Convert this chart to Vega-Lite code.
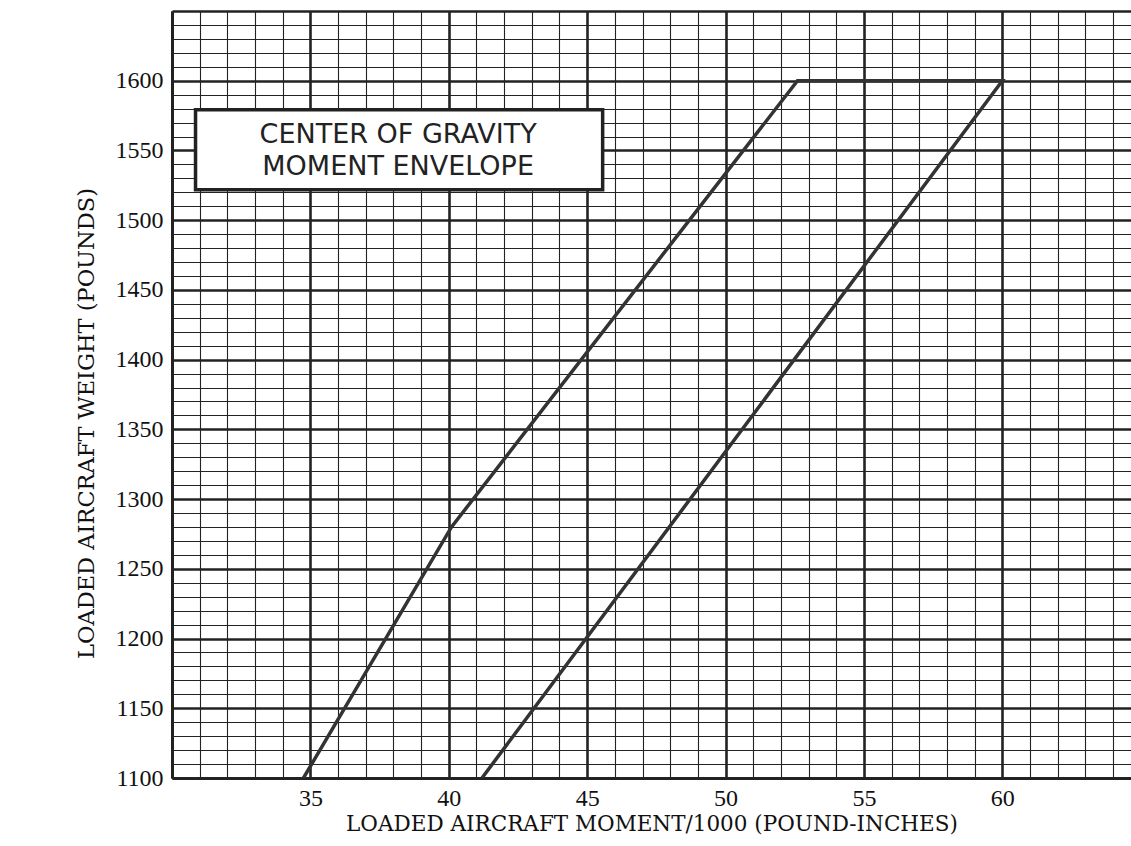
{
  "$schema": "https://vega.github.io/schema/vega-lite/v6.json",
  "width": 959,
  "height": 767,
  "autosize": {"type": "none"},
  "padding": {"left": 172, "top": 11, "right": 0, "bottom": 68},
  "background": "white",
  "config": {"view": {"stroke": null}},
  "datasets": {
    "envelope": [
      {"order": 1, "moment": 34.75, "weight": 1100},
      {"order": 2, "moment": 40.1, "weight": 1280},
      {"order": 3, "moment": 52.6, "weight": 1600},
      {"order": 4, "moment": 60, "weight": 1600},
      {"order": 5, "moment": 41.2, "weight": 1100}
    ],
    "box": [{"moment": 30.85, "moment2": 45.56, "weight": 1521.8, "weight2": 1579.2}],
    "caption": [
      {"line": "CENTER OF GRAVITY", "moment": 38.17, "weight": 1561},
      {"line": "MOMENT ENVELOPE", "moment": 38.17, "weight": 1538}
    ]
  },
  "encoding": {
    "x": {
      "field": "moment", "type": "quantitative",
      "scale": {"domain": [30, 64.65], "nice": false, "zero": false},
      "axis": {
        "title": "LOADED AIRCRAFT MOMENT/1000 (POUND-INCHES)",
        "values": [30,30.5,31,31.5,32,32.5,33,33.5,34,34.5,35,35.5,36,36.5,37,37.5,38,38.5,39,39.5,40,40.5,41,41.5,42,42.5,43,43.5,44,44.5,45,45.5,46,46.5,47,47.5,48,48.5,49,49.5,50,50.5,51,51.5,52,52.5,53,53.5,54,54.5,55,55.5,56,56.5,57,57.5,58,58.5,59,59.5,60,60.5,61,61.5,62,62.5,63,63.5,64,64.5],
        "format": "d",
        "grid": true,
        "gridColor": "#222222",
        "gridOpacity": 1,
        "gridWidth": {"condition": {"test": "datum.value % 5 === 0", "value": 2.6}, "value": 1.1},
        "ticks": false,
        "labelExpr": "datum.value % 5 === 0 && datum.value >= 35 && datum.value <= 60 ? datum.label : ''",
        "labelOverlap": false,
        "labelFlush": false,
        "labelBound": false,
        "labelFont": "Liberation Serif",
        "labelFontSize": 24,
        "labelColor": "#111111",
        "labelPadding": 8,
        "domainColor": "#222222",
        "domainWidth": 3,
        "titleFont": "DejaVu Serif",
        "titleFontSize": 21.5,
        "titleFontWeight": "normal",
        "titleColor": "#111111",
        "titlePadding": 3
      }
    },
    "y": {
      "field": "weight", "type": "quantitative",
      "scale": {"domain": [1100, 1650], "nice": false, "zero": false},
      "axis": {
        "title": "LOADED AIRCRAFT WEIGHT (POUNDS)",
        "values": [1100,1110,1120,1130,1140,1150,1160,1170,1180,1190,1200,1210,1220,1230,1240,1250,1260,1270,1280,1290,1300,1310,1320,1330,1340,1350,1360,1370,1380,1390,1400,1410,1420,1430,1440,1450,1460,1470,1480,1490,1500,1510,1520,1530,1540,1550,1560,1570,1580,1590,1600,1610,1620,1630,1640,1650],
        "format": "d",
        "grid": true,
        "gridColor": "#222222",
        "gridOpacity": 1,
        "gridWidth": {"condition": {"test": "datum.value % 50 === 0", "value": 2.6}, "value": 1.1},
        "ticks": false,
        "labelExpr": "datum.value % 50 === 0 && datum.value <= 1600 ? datum.label : ''",
        "labelOverlap": false,
        "labelFlush": false,
        "labelBound": false,
        "labelFont": "Liberation Serif",
        "labelFontSize": 24,
        "labelColor": "#111111",
        "labelPadding": 9,
        "domainColor": "#222222",
        "domainWidth": 3,
        "titleFont": "DejaVu Serif",
        "titleFontSize": 22.5,
        "titleFontWeight": "normal",
        "titleColor": "#111111",
        "titlePadding": 17,
        "titleY": 412
      }
    }
  },
  "layer": [
    {
      "data": {"name": "envelope"},
      "mark": {"type": "line", "color": "#333333", "strokeWidth": 3.5, "clip": true},
      "encoding": {
        "order": {"field": "order", "type": "quantitative"}
      }
    },
    {
      "data": {"name": "box"},
      "mark": {"type": "rect", "fill": "white", "stroke": "#222222", "strokeWidth": 3.5},
      "encoding": {
        "x2": {"field": "moment2"},
        "y2": {"field": "weight2"}
      }
    },
    {
      "data": {"name": "caption"},
      "mark": {"type": "text", "font": "DejaVu Sans", "fontSize": 27, "color": "#222222", "align": "center", "baseline": "middle"},
      "encoding": {
        "text": {"field": "line", "type": "nominal"}
      }
    }
  ]
}
